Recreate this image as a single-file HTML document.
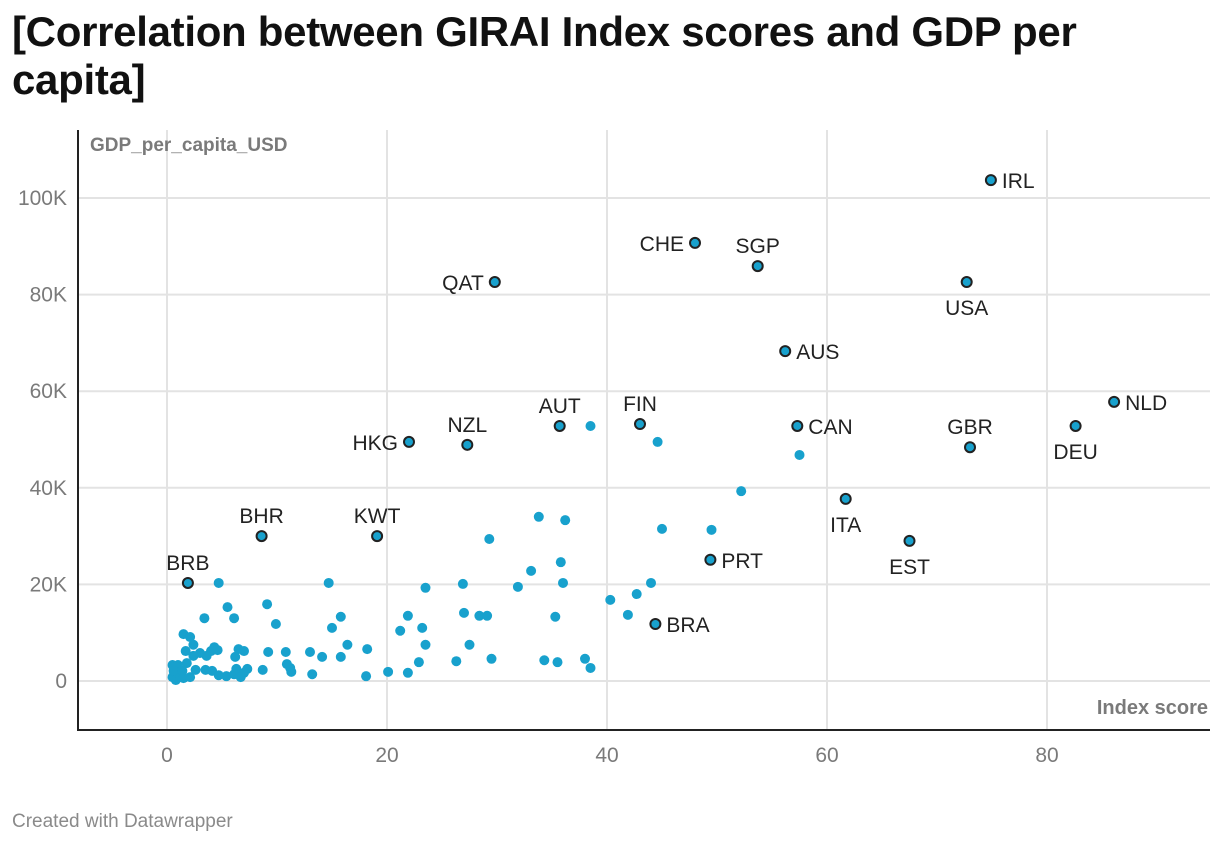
<!DOCTYPE html>
<html><head><meta charset="utf-8"><style>
body{margin:0;background:#fff;font-family:"Liberation Sans",sans-serif;}
#t{position:absolute;left:12px;top:8px;font-size:42px;font-weight:bold;line-height:48px;color:#111;letter-spacing:-0.3px;margin:0}
#f{position:absolute;left:12px;top:811px;font-size:19px;color:#8a8a8a}
svg{position:absolute;left:0;top:0}
</style></head><body>
<h1 id="t">[Correlation between GIRAI Index scores and GDP per<br>capita]</h1>
<svg id="c" width="1220" height="846"></svg>
<div id="f">Created with Datawrapper</div>
<script>
const xTicks=[0,20,40,60,80];
const yTicks=[0,20,40,60,80,100];
const yTickLabels=["0","20K","40K","60K","80K","100K"];
const labCodes=["IRL","CHE","SGP","QAT","USA","AUS","NLD","AUT","FIN","CAN","DEU","HKG","NZL","GBR","ITA","EST","BHR","KWT","PRT","BRB","BRA"];
const labX=[74.9,48.0,53.7,29.8,72.7,56.2,86.1,35.7,43.0,57.3,82.6,22.0,27.3,73.0,61.7,67.5,8.6,19.1,49.4,1.9,44.4];
const labY=[103.7,90.7,85.9,82.6,82.6,68.3,57.8,52.8,53.2,52.8,52.8,49.5,48.9,48.4,37.7,29.0,30.0,30.0,25.1,20.3,11.8];
const labPos=["r","l","t","l","b","r","r","t","t","r","b","l","t","t","b","b","t","t","r","t","r"];
const ptX=[38.5,44.6,57.5,52.2,33.8,36.2,45.0,49.5,29.3,35.8,33.1,14.7,4.7,26.9,36.0,44.0,23.5,31.9,42.7,40.3,9.1,5.5,3.4,15.8,6.1,27.0,21.9,28.4,29.1,35.3,41.9,9.9,15.0,23.2,21.2,1.5,2.1,16.4,23.5,27.5,18.2,13.0,2.4,4.3,4.0,1.7,3.0,4.6,6.5,7.0,9.2,10.8,14.1,15.8,2.4,3.6,6.2,29.5,34.3,35.5,38.0,22.9,26.3,10.9,11.2,0.5,1.0,1.8,3.5,4.1,6.3,7.3,8.7,38.5,5.4,6.1,7.0,11.3,13.2,18.1,20.1,21.9,0.5,0.8,1.2,1.5,2.1,0.6,1.4,2.6,6.7,4.7];
const ptY=[52.8,49.5,46.8,39.3,34.0,33.3,31.5,31.3,29.4,24.6,22.8,20.3,20.3,20.1,20.3,20.3,19.3,19.5,18.0,16.8,15.9,15.3,13.0,13.3,13.0,14.1,13.5,13.5,13.5,13.3,13.7,11.8,11.0,11.0,10.4,9.7,9.1,7.5,7.5,7.5,6.6,6.0,7.5,7.0,6.2,6.2,5.8,6.4,6.6,6.2,6.0,6.0,5.0,5.0,5.2,5.2,5.0,4.6,4.3,3.9,4.6,3.9,4.1,3.5,2.7,3.3,3.3,3.7,2.3,2.1,2.5,2.5,2.3,2.7,1.0,1.4,1.7,1.9,1.4,1.0,1.9,1.7,0.8,0.2,1.0,0.6,0.8,2.1,2.1,2.3,0.8,1.2];
const NS="http://www.w3.org/2000/svg";
const svg=document.getElementById('c');
const X=v=>167+v*11, Y=v=>681-v*4.83;
function mk(t,a,p){const e=document.createElementNS(NS,t);for(const k in a)e.setAttribute(k,a[k]);(p||svg).appendChild(e);return e;}
xTicks.forEach(t=>{const l=mk('line',{x1:X(t),x2:X(t),y1:130,y2:730,stroke:'#e3e3e3','stroke-width':2});


const tx=mk('text',{x:X(t),y:762,'text-anchor':'middle','font-size':21,fill:'#7a7a7a'});tx.textContent=t;

});
yTicks.forEach((t,i)=>{const l=mk('line',{x1:78,x2:1210,y1:Y(t),y2:Y(t),stroke:'#e3e3e3','stroke-width':2});


const tx=mk('text',{x:67,y:Y(t)+7,'text-anchor':'end','font-size':21,fill:'#7a7a7a'});tx.textContent=yTickLabels[i];

});
const ax1=mk('line',{x1:78,x2:78,y1:130,y2:731,stroke:'#222','stroke-width':2});


const ax2=mk('line',{x1:77,x2:1210,y1:730,y2:730,stroke:'#222','stroke-width':2});


const yt=mk('text',{x:90,y:151,'font-size':19,'font-weight':'bold',fill:'#7a7a7a'});yt.textContent='GDP_per_capita_USD';


const xt=mk('text',{x:1208,y:714,'text-anchor':'end','font-size':20,'font-weight':'bold',fill:'#7a7a7a'});xt.textContent='Index score';


ptX.forEach((v,i)=>{const c=mk('circle',{cx:X(v),cy:Y(ptY[i]),r:5,fill:'#18a1cd'});

});
labX.forEach((v,i)=>{const cx=X(v),cy=Y(labY[i]);
const c=mk('circle',{cx:cx,cy:cy,r:5,fill:'#18a1cd',stroke:'#222','stroke-width':2});


const p=labPos[i];let a={'font-size':21,fill:'#222'};
if(p=='r'){a.x=cx+11;a.y=cy+8;}else if(p=='l'){a.x=cx-11;a.y=cy+8;a['text-anchor']='end';}
else if(p=='t'){a.x=cx;a.y=cy-13;a['text-anchor']='middle';}else{a.x=cx;a.y=cy+33;a['text-anchor']='middle';}
const t=mk('text',a);t.textContent=labCodes[i];

});
</script>
</body></html>
